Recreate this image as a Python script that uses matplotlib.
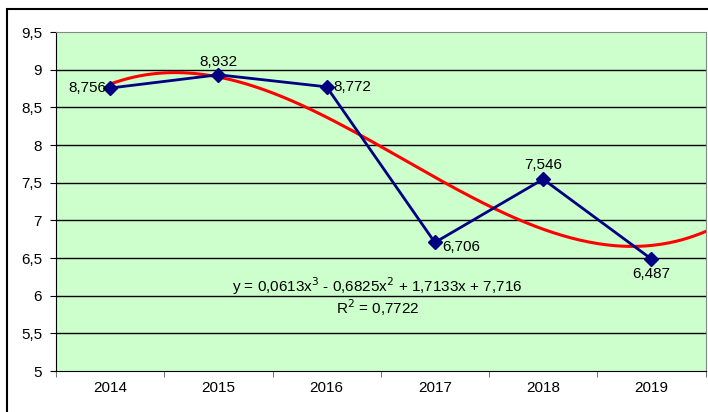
import numpy as np
import matplotlib.pyplot as plt
from matplotlib.patches import Rectangle

years = ['2014', '2015', '2016', '2017', '2018', '2019']
values = [8.756, 8.932, 8.772, 6.706, 7.546, 6.487]
labels = ['8,756', '8,932', '8,772', '6,706', '7,546', '6,487']
# label offsets in points (dx, dy) and alignment
label_pos = [(-3, 0, 'right', 'center'), (0, 4, 'center', 'bottom'),
             (5, 0, 'left', 'center'), (5, -3, 'left', 'center'),
             (0, 5, 'center', 'bottom'), (0, -6, 'center', 'top')]
# polynomial trend line coefficients (x = 1..6), forward 0.5
trend_coef = [0.0613, -0.6825, 1.7133, 7.716]
yticks = [5, 5.5, 6, 6.5, 7, 7.5, 8, 8.5, 9, 9.5]

plt.rcParams['font.family'] = ['Liberation Sans', 'DejaVu Sans']

fig = plt.figure(figsize=(7.08, 4.12), dpi=100)
W, H = 708, 412
ax = fig.add_axes([56 / W, 1 - 371 / H, (705.5 - 56) / W, (371 - 32) / H])
ax.set_facecolor('#ccffcc')

# outer chart border
fig.patches.append(Rectangle((7 / W, -0.1), 1.2, 1 - 9 / H + 0.1,
                             transform=fig.transFigure, fill=False,
                             edgecolor='black', lw=1.5))

x = np.arange(1, len(values) + 1)
xt = np.linspace(1, 6.5, 200)
ax.plot(xt, np.polyval(trend_coef, xt), color='#ff0000', lw=2.2, zorder=3)
ax.plot(x, values, color='#000080', lw=2, marker='D', markersize=7, zorder=4)

for xi, v, lab, (dx, dy, ha, va) in zip(x, values, labels, label_pos):
    ax.annotate(lab, (xi, v), xytext=(dx, dy), textcoords='offset points',
                ha=ha, va=va, fontsize=11, color='black', zorder=5)

ax.text(3.47, 6.13, 'y = 0,0613x$^3$ - 0,6825x$^2$ + 1,7133x + 7,716',
        ha='center', va='center', fontsize=11)
ax.text(3.47, 5.84, 'R$^2$ = 0,7722', ha='center', va='center', fontsize=11)

ax.set_xlim(0.5, 6.5)
ax.set_ylim(5, 9.5)
ax.set_yticks(yticks)
ax.set_yticklabels([('%g' % t).replace('.', ',') for t in yticks], fontsize=11)
ax.set_xticks(x)
ax.set_xticklabels(years, fontsize=11)
ax.set_xticks(np.arange(0.5, 7, 1), minor=True)
ax.tick_params(axis='x', which='major', length=0, pad=7)
ax.tick_params(axis='x', which='minor', length=4, color='#555555')
ax.tick_params(axis='y', length=4, pad=6)
for t in yticks[1:-1]:
    ax.axhline(t, color='black', lw=1, zorder=1)

ax.spines['top'].set_color('#888888')
ax.spines['right'].set_color('#888888')
ax.spines['left'].set_color('black')
ax.spines['bottom'].set_color('black')

fig.savefig('out.png', dpi=100)
